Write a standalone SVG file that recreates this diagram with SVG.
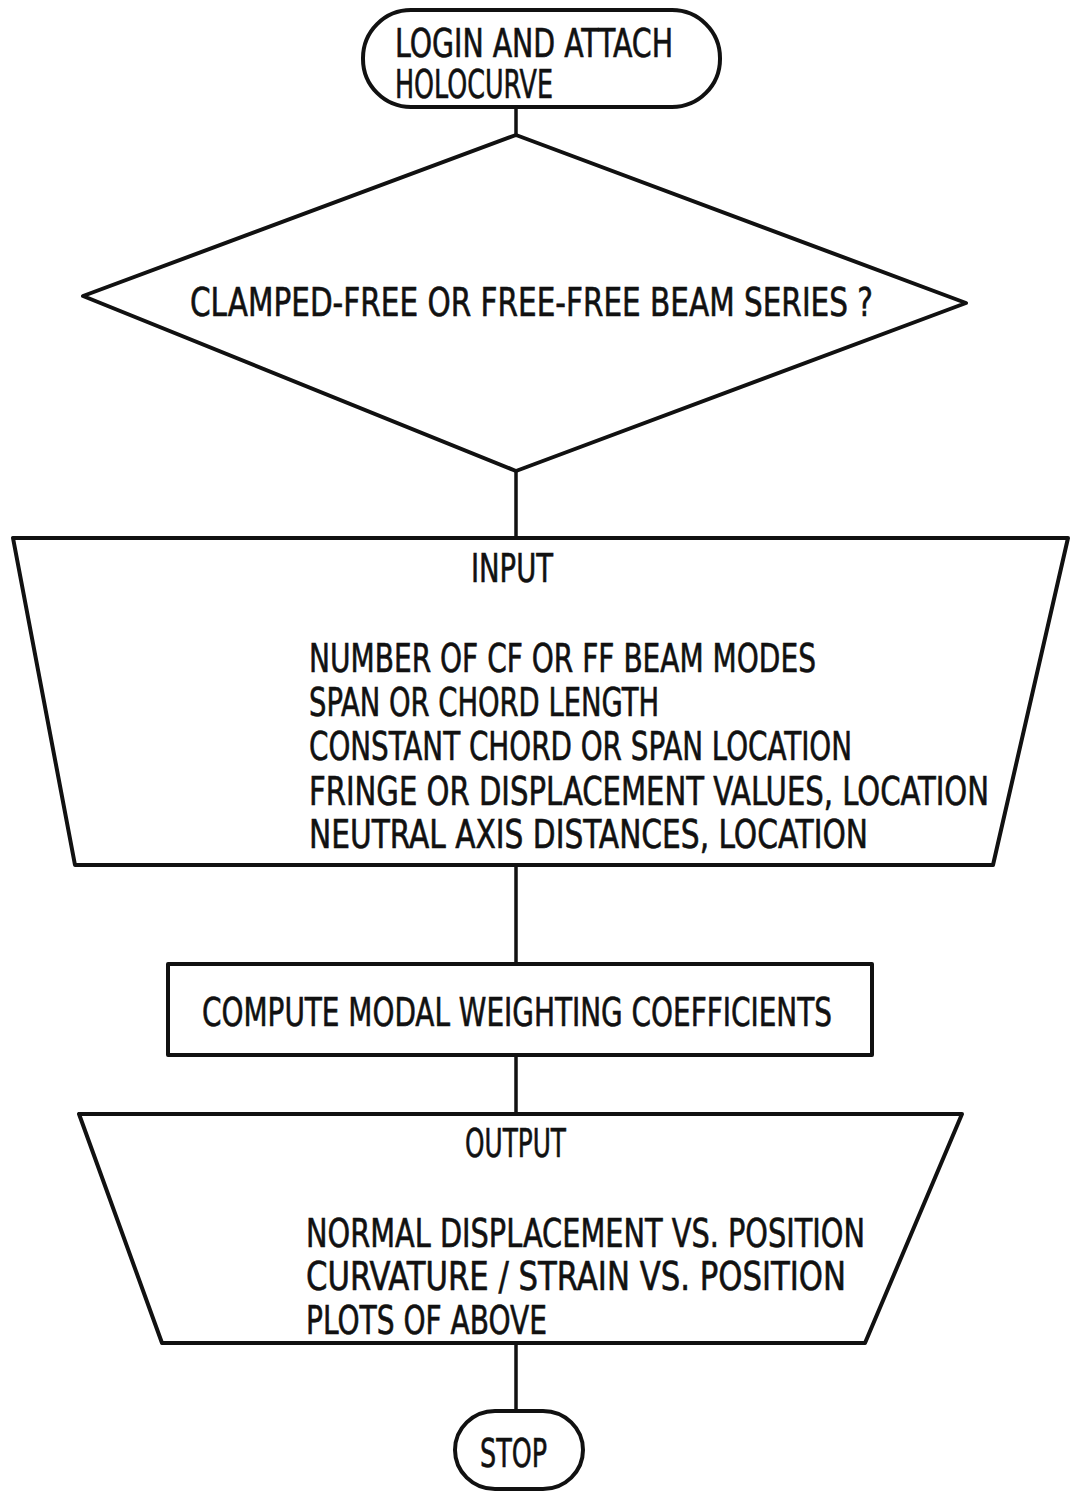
<svg xmlns="http://www.w3.org/2000/svg" width="1070" height="1491" viewBox="0 0 1070 1491">
<style>
.shape{fill:#fff;stroke:#111;stroke-width:4;stroke-linejoin:round}
.conn{fill:none;stroke:#111;stroke-width:3.5}
text{font-family:"Liberation Sans Narrow","DejaVu Sans Condensed","Liberation Sans",sans-serif;font-size:39px;fill:#111;stroke:#111;stroke-width:0.6}
</style>
<rect width="1070" height="1491" fill="#fff"/>
<g id="connectors">
<line class="conn" x1="516" y1="107" x2="516" y2="135"/>
<line class="conn" x1="516" y1="471" x2="516" y2="538"/>
<line class="conn" x1="516" y1="865" x2="516" y2="964"/>
<line class="conn" x1="516" y1="1055" x2="516" y2="1114"/>
<line class="conn" x1="516" y1="1343" x2="516" y2="1411"/>
</g>
<g id="login">
<rect class="shape" x="363" y="10" width="357" height="97" rx="48" ry="48"/>
<text x="395" y="57" textLength="278" lengthAdjust="spacingAndGlyphs">LOGIN AND ATTACH</text>
<text x="395" y="98" textLength="158" lengthAdjust="spacingAndGlyphs">HOLOCURVE</text>
</g>
<g id="decision">
<polygon class="shape" points="516,135 966,303 516,471 83,296"/>
<text x="190" y="316" textLength="683" lengthAdjust="spacingAndGlyphs">CLAMPED-FREE OR FREE-FREE BEAM SERIES ?</text>
</g>
<g id="input">
<polygon class="shape" points="13,538 1068,538 993,865 75,865"/>
<text x="471" y="582" textLength="82" lengthAdjust="spacingAndGlyphs">INPUT</text>
<text x="309" y="672" textLength="507" lengthAdjust="spacingAndGlyphs">NUMBER OF CF OR FF BEAM MODES</text>
<text x="309" y="716" textLength="350" lengthAdjust="spacingAndGlyphs">SPAN OR CHORD LENGTH</text>
<text x="309" y="760" textLength="543" lengthAdjust="spacingAndGlyphs">CONSTANT CHORD OR SPAN LOCATION</text>
<text x="309" y="805" textLength="680" lengthAdjust="spacingAndGlyphs">FRINGE OR DISPLACEMENT VALUES, LOCATION</text>
<text x="309" y="848" textLength="559" lengthAdjust="spacingAndGlyphs">NEUTRAL AXIS DISTANCES, LOCATION</text>
</g>
<g id="compute">
<rect class="shape" x="168" y="964" width="704" height="91"/>
<text x="202" y="1026" textLength="630" lengthAdjust="spacingAndGlyphs">COMPUTE MODAL WEIGHTING COEFFICIENTS</text>
</g>
<g id="output">
<polygon class="shape" points="79,1114 962,1114 865,1343 162,1343"/>
<text x="465" y="1157" textLength="101" lengthAdjust="spacingAndGlyphs">OUTPUT</text>
<text x="306" y="1247" textLength="559" lengthAdjust="spacingAndGlyphs">NORMAL DISPLACEMENT VS. POSITION</text>
<text x="306" y="1290" textLength="540" lengthAdjust="spacingAndGlyphs">CURVATURE / STRAIN VS. POSITION</text>
<text x="306" y="1334" textLength="241" lengthAdjust="spacingAndGlyphs">PLOTS OF ABOVE</text>
</g>
<g id="stop">
<rect class="shape" x="455" y="1411" width="128" height="78" rx="40" ry="39"/>
<text x="480" y="1467" textLength="67" lengthAdjust="spacingAndGlyphs">STOP</text>
</g>
</svg>
